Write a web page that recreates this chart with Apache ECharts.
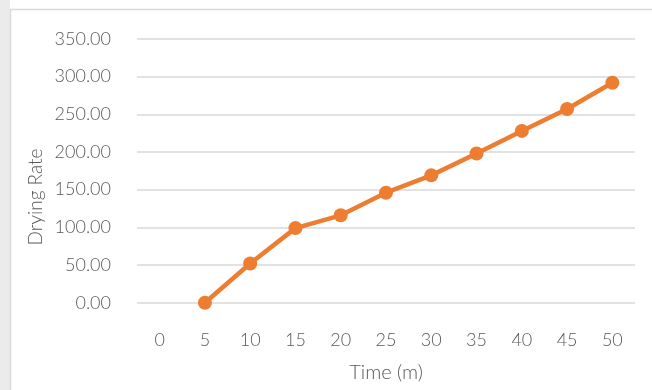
<!DOCTYPE html>
<html>
<head>
<meta charset="utf-8">
<script src="https://cdn.jsdelivr.net/npm/echarts@6/dist/echarts.min.js"></script>
<style>
  html, body { margin: 0; padding: 0; background: #ffffff; }
  #chart { width: 652px; height: 390px; }
</style>
</head>
<body>
<div id="chart"></div>
<script>
// Drying rate over time
const timeCategories = ['0', '5', '10', '15', '20', '25', '30', '35', '40', '45', '50'];
const dryingRate = [null, 0, 52, 99, 116, 146, 169, 198, 228, 257, 292];
const yTicks = { min: 0, max: 350, interval: 50 };

const textColor = '#595959';
const fontFamily = 'Lato, "Noto Sans", sans-serif';
const labelStyle = { color: textColor, fontSize: 18, fontFamily: fontFamily, fontWeight: 300 };

const chart = echarts.init(document.getElementById('chart'), null, { renderer: 'canvas' });

chart.setOption({
  backgroundColor: '#ffffff',
  animation: false,
  graphic: [
    // grey strip and frame around the chart area
    { type: 'rect', z: -10, shape: { x: 0, y: 0, width: 10, height: 390 },
      style: { fill: '#ebebeb' } },
    { type: 'rect', z: -9, shape: { x: 10.5, y: 9.5, width: 660, height: 400 },
      style: { fill: '#ffffff', stroke: '#d9d9d9', lineWidth: 1.5 } },
    // vertical axis title
    { type: 'text', x: 36, y: 197, rotation: Math.PI / 2,
      style: { text: 'Drying Rate', fill: textColor, font: '300 19px ' + fontFamily,
               align: 'center', verticalAlign: 'middle' } }
  ],
  grid: { left: 137, right: 17, top: 39, bottom: 87.3 },
  xAxis: {
    type: 'category',
    data: timeCategories,
    boundaryGap: true,
    name: 'Time (m)',
    nameLocation: 'middle',
    nameGap: 60,
    nameTextStyle: Object.assign({}, labelStyle, { fontSize: 20 }),
    axisLine: { show: false },
    axisTick: { show: false },
    axisLabel: Object.assign({ margin: 28 }, labelStyle)
  },
  yAxis: {
    type: 'value',
    min: yTicks.min,
    max: yTicks.max,
    interval: yTicks.interval,
    axisLine: { show: false },
    axisTick: { show: false },
    axisLabel: Object.assign({ margin: 26, formatter: v => v.toFixed(2) }, labelStyle),
    splitLine: { lineStyle: { color: '#d9d9d9', width: 1.5 } }
  },
  series: [{
    type: 'line',
    data: dryingRate,
    symbol: 'circle',
    symbolSize: 14,
    lineStyle: { color: '#ED7D31', width: 4.5 },
    itemStyle: { color: '#ED7D31' }
  }]
});
</script>
</body>
</html>
